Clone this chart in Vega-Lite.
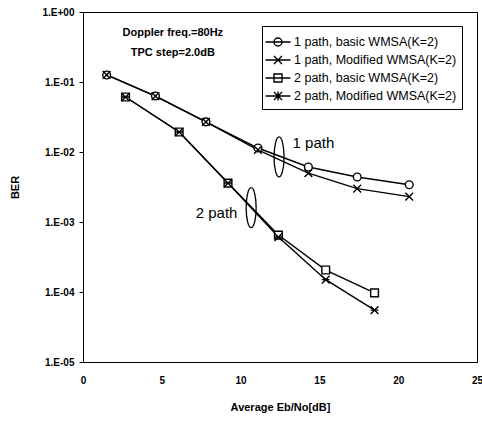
{
  "$schema": "https://vega.github.io/schema/vega-lite/v6.json",
  "width": 394,
  "height": 350,
  "autosize": {"type": "none"},
  "padding": {"left": 83, "top": 12, "right": 5, "bottom": 59},
  "background": "white",
  "config": {
    "view": {"stroke": "black", "strokeWidth": 1},
    "axis": {"grid": false, "domainColor": "black", "tickColor": "black", "labelColor": "black", "titleColor": "black", "labelFont": "Liberation Sans", "titleFont": "Liberation Sans", "labelFontWeight": "bold", "titleFontWeight": "bold", "labelFontSize": 10, "titleFontSize": 11}
  },
  "datasets": {
    "ber": [
      {"series": "1 path, basic WMSA(K=2)", "x": 1.5, "ber": 0.126},
      {"series": "1 path, basic WMSA(K=2)", "x": 4.6, "ber": 0.063},
      {"series": "1 path, basic WMSA(K=2)", "x": 7.8, "ber": 0.027},
      {"series": "1 path, basic WMSA(K=2)", "x": 11.1, "ber": 0.0114},
      {"series": "1 path, basic WMSA(K=2)", "x": 14.3, "ber": 0.0061},
      {"series": "1 path, basic WMSA(K=2)", "x": 17.4, "ber": 0.0044},
      {"series": "1 path, basic WMSA(K=2)", "x": 20.7, "ber": 0.0034},
      {"series": "1 path, Modified WMSA(K=2)", "x": 1.5, "ber": 0.126},
      {"series": "1 path, Modified WMSA(K=2)", "x": 4.6, "ber": 0.063},
      {"series": "1 path, Modified WMSA(K=2)", "x": 7.8, "ber": 0.027},
      {"series": "1 path, Modified WMSA(K=2)", "x": 11.1, "ber": 0.0107},
      {"series": "1 path, Modified WMSA(K=2)", "x": 14.3, "ber": 0.005},
      {"series": "1 path, Modified WMSA(K=2)", "x": 17.4, "ber": 0.003},
      {"series": "1 path, Modified WMSA(K=2)", "x": 20.7, "ber": 0.0023},
      {"series": "2 path, basic WMSA(K=2)", "x": 2.7, "ber": 0.061},
      {"series": "2 path, basic WMSA(K=2)", "x": 6.1, "ber": 0.0193},
      {"series": "2 path, basic WMSA(K=2)", "x": 9.2, "ber": 0.0036},
      {"series": "2 path, basic WMSA(K=2)", "x": 12.4, "ber": 0.00065},
      {"series": "2 path, basic WMSA(K=2)", "x": 15.4, "ber": 0.000206},
      {"series": "2 path, basic WMSA(K=2)", "x": 18.5, "ber": 0.000097},
      {"series": "2 path, Modified WMSA(K=2)", "x": 2.7, "ber": 0.061},
      {"series": "2 path, Modified WMSA(K=2)", "x": 6.1, "ber": 0.0193},
      {"series": "2 path, Modified WMSA(K=2)", "x": 9.2, "ber": 0.0036},
      {"series": "2 path, Modified WMSA(K=2)", "x": 12.4, "ber": 0.00061},
      {"series": "2 path, Modified WMSA(K=2)", "x": 15.4, "ber": 0.00015},
      {"series": "2 path, Modified WMSA(K=2)", "x": 18.5, "ber": 0.000055}
    ],
    "notes": [
      {"label": "Doppler freq.=80Hz", "x": 5.7, "ber": 0.5, "kind": "bold", "align": "center"},
      {"label": "TPC step=2.0dB", "x": 5.7, "ber": 0.26, "kind": "bold", "align": "center"},
      {"label": "1 path", "x": 13.3, "ber": 0.0135, "kind": "plain", "align": "left"},
      {"label": "2 path", "x": 9.8, "ber": 0.00135, "kind": "plain", "align": "right"}
    ],
    "ellipses": [
      {"x": 12.44, "ber": 0.0085},
      {"x": 10.67, "ber": 0.0016}
    ]
  },
  "layer": [
    {
      "data": {"name": "ber"},
      "mark": {"type": "line", "color": "black", "strokeWidth": 1.4},
      "encoding": {
        "x": {"field": "x", "type": "quantitative", "scale": {"domain": [0, 25], "nice": false}, "axis": {"values": [0, 5, 10, 15, 20, 25], "title": "Average Eb/No[dB]", "tickSize": 0, "labelPadding": 13, "titlePadding": 16, "labelFlush": false}},
        "y": {"field": "ber", "type": "quantitative", "scale": {"type": "log", "domain": [0.00001, 1], "nice": false}, "axis": {"values": [0.00001, 0.0001, 0.001, 0.01, 0.1, 1], "labelExpr": "'1.E' + (datum.value >= 1 ? '+00' : '-0' + round(-log(datum.value)/LN10))", "title": "BER", "tickSize": 4, "labelPadding": 5, "titlePadding": 22}},
        "detail": {"field": "series"}
      }
    },
    {
      "data": {"name": "ber"},
      "mark": {"type": "point", "filled": true, "fill": "white", "stroke": "black", "strokeWidth": 1.4, "size": 60, "opacity": 1},
      "encoding": {
        "x": {"field": "x", "type": "quantitative"},
        "y": {"field": "ber", "type": "quantitative"},
        "shape": {"field": "series", "type": "nominal", "legend": null, "scale": {"domain": ["1 path, basic WMSA(K=2)", "1 path, Modified WMSA(K=2)", "2 path, basic WMSA(K=2)", "2 path, Modified WMSA(K=2)"], "range": ["circle", "M-1,-1L1,1M-1,1L1,-1", "square", "M-1,-1L1,1M-1,1L1,-1M-1,0L1,0"]}}
      }
    },
    {
      "data": {"name": "ber"},
      "transform": [{"filter": "datum.x > 100"}],
      "mark": {"type": "point", "filled": false, "stroke": "black", "strokeWidth": 1.3, "opacity": 1},
      "encoding": {
        "x": {"field": "x", "type": "quantitative"},
        "y": {"field": "ber", "type": "quantitative"},
        "shape": {
          "field": "series", "type": "nominal",
          "scale": {"domain": ["1 path, basic WMSA(K=2)", "1 path, Modified WMSA(K=2)", "2 path, basic WMSA(K=2)", "2 path, Modified WMSA(K=2)"], "range": ["M-1.25,0H1.25M0.4,0A0.4,0.4 0 1,1 -0.4,0A0.4,0.4 0 1,1 0.4,0", "M-1.25,0H1.25M-0.4,-0.4L0.4,0.4M-0.4,0.4L0.4,-0.4", "M-1.25,0H1.25M-0.4,-0.4H0.4V0.4H-0.4Z", "M-1.25,0H1.25M-0.4,-0.4L0.4,0.4M-0.4,0.4L0.4,-0.4M0,-0.45V0.45"]},
          "legend": {"orient": "none", "legendX": 179, "legendY": 14, "title": null, "strokeColor": "black", "fillColor": "white", "padding": 5, "labelFont": "Liberation Sans", "labelFontSize": 12.5, "labelColor": "black", "symbolStrokeColor": "black", "symbolStrokeWidth": 1.4, "symbolSize": 400, "symbolFillColor": "white", "rowPadding": -1, "labelOffset": 5, "labelLimit": 300}
        }
      }
    },
    {
      "data": {"name": "notes"},
      "transform": [{"filter": "datum.kind == 'bold'"}],
      "mark": {"type": "text", "font": "Liberation Sans", "fontWeight": "bold", "fontSize": 11, "color": "black", "align": "center", "baseline": "middle"},
      "encoding": {
        "x": {"field": "x", "type": "quantitative"},
        "y": {"field": "ber", "type": "quantitative"},
        "text": {"field": "label"}
      }
    },
    {
      "data": {"name": "notes"},
      "transform": [{"filter": "datum.kind == 'plain' && datum.align == 'left'"}],
      "mark": {"type": "text", "font": "Liberation Sans", "fontSize": 15, "color": "black", "align": "left", "baseline": "middle"},
      "encoding": {
        "x": {"field": "x", "type": "quantitative"},
        "y": {"field": "ber", "type": "quantitative"},
        "text": {"field": "label"}
      }
    },
    {
      "data": {"name": "notes"},
      "transform": [{"filter": "datum.kind == 'plain' && datum.align == 'right'"}],
      "mark": {"type": "text", "font": "Liberation Sans", "fontSize": 15, "color": "black", "align": "right", "baseline": "middle"},
      "encoding": {
        "x": {"field": "x", "type": "quantitative"},
        "y": {"field": "ber", "type": "quantitative"},
        "text": {"field": "label"}
      }
    },
    {
      "data": {"name": "ellipses"},
      "mark": {"type": "point", "shape": "M0,-1A0.25,1 0 1,1 0,1A0.25,1 0 1,1 0,-1", "size": 1600, "filled": false, "stroke": "black", "strokeWidth": 1.3, "opacity": 1},
      "encoding": {
        "x": {"field": "x", "type": "quantitative"},
        "y": {"field": "ber", "type": "quantitative"}
      }
    }
  ],
  "resolve": {"scale": {"shape": "independent"}}
}
